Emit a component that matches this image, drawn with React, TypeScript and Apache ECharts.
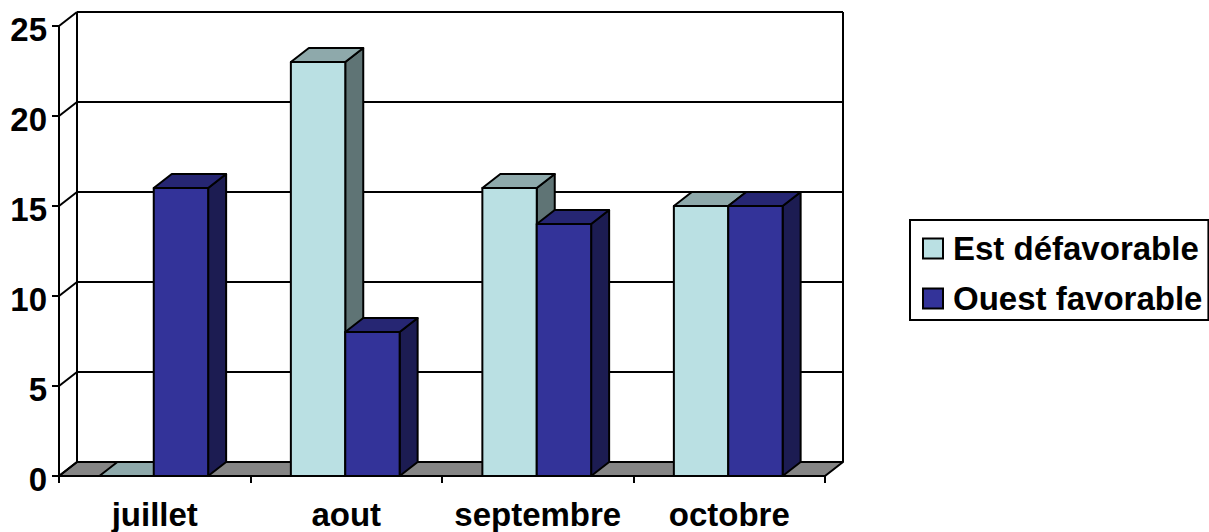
import React, { useEffect, useRef } from "react";
import * as echarts from "echarts";

const categories = ["juillet", "aout", "septembre", "octobre"];
const estName = "Est défavorable";
const ouestName = "Ouest favorable";
const estValues = [0, 23, 16, 15];
const ouestValues = [16, 8, 14, 15];
const yTicks = [0, 5, 10, 15, 20, 25];

const FONT = "'Liberation Sans', Arial, sans-serif";
const DX = 18;
const DY = 14;
const LINE = { stroke: "#000", lineWidth: 2 };

const poly = (points: number[][], fill: string) => ({
  type: "polygon",
  shape: { points },
  style: { fill, ...LINE, lineJoin: "round" },
});

const wallItem = (params: any, api: any) => {
  const r = params.coordSys;
  const y = api.coord([0, api.value(1)])[1];
  const children: any[] = [
    { type: "line", shape: { x1: r.x + DX, y1: y - DY, x2: r.x + r.width + DX, y2: y - DY }, style: LINE },
    { type: "line", shape: { x1: r.x, y1: y, x2: r.x + DX, y2: y - DY }, style: LINE },
  ];
  if (api.value(1) === 0) {
    children.unshift(
      { type: "line", shape: { x1: r.x + DX, y1: r.y - DY, x2: r.x + DX, y2: y - DY }, style: LINE },
      { type: "line", shape: { x1: r.x + r.width + DX, y1: r.y - DY, x2: r.x + r.width + DX, y2: y - DY }, style: LINE },
      poly([[r.x, y], [r.x + r.width, y], [r.x + r.width + DX, y - DY], [r.x + DX, y - DY]], "#858585")
    );
  }
  return { type: "group", children };
};

const barItem = (side: number, front: string, top: string, dark: string) => (_: any, api: any) => {
  const cat = api.value(0);
  const [cx0, yTop] = api.coord([cat, api.value(1)]);
  const cx = cx0 - 1;
  const yBase = api.coord([cat, 0])[1];
  const w = api.size([1, 0])[0] * 0.284;
  const x0 = cx + (side === 0 ? -w : 0);
  const x1 = x0 + w;
  return {
    type: "group",
    children: [
      poly([[x1, yTop], [x1 + DX, yTop - DY], [x1 + DX, yBase - DY], [x1, yBase]], dark),
      poly([[x0, yTop], [x1, yTop], [x1 + DX, yTop - DY], [x0 + DX, yTop - DY]], top),
      poly([[x0, yTop], [x1, yTop], [x1, yBase], [x0, yBase]], front),
    ],
  };
};

export default function App() {
  const ref = useRef<HTMLDivElement>(null);
  useEffect(() => {
    const chart = echarts.init(ref.current!, undefined, { renderer: "svg" });
    const label = { color: "#000", fontFamily: FONT, fontWeight: "bold" as const, fontSize: 33 };
    chart.setOption({
      animation: false,
      backgroundColor: "#fff",
      grid: { left: 59, top: 26, width: 766, height: 450, containLabel: false },
      legend: {
        left: 910,
        top: 220,
        orient: "vertical",
        padding: [12, 6, 5, 12],
        itemGap: 17,
        itemWidth: 20,
        itemHeight: 20,
        borderColor: "#000",
        borderWidth: 2,
        backgroundColor: "#fff",
        textStyle: { ...label, padding: [0, 0, 0, 5] },
        data: [
          { name: estName, icon: "rect", itemStyle: { color: "#BAE0E3", borderColor: "#000", borderWidth: 2 } },
          { name: ouestName, icon: "rect", itemStyle: { color: "#333399", borderColor: "#000", borderWidth: 2 } },
        ],
      },
      xAxis: {
        type: "category",
        data: categories,
        axisLine: { lineStyle: { color: "#000", width: 2 } },
        axisTick: { show: true, alignWithLabel: false, length: 7, lineStyle: { color: "#000", width: 2 } },
        axisLabel: { ...label, margin: 22, interval: 0 },
      },
      yAxis: {
        type: "value",
        min: 0,
        max: 25,
        interval: 5,
        splitLine: { show: false },
        axisLine: { show: true, lineStyle: { color: "#000", width: 2 } },
        axisTick: { show: true, length: 7, lineStyle: { color: "#000", width: 2 } },
        axisLabel: { ...label, margin: 12, verticalAlign: "top", lineHeight: 33, padding: [-13, 0, 0, 0] },
      },
      series: [
        {
          type: "custom",
          silent: true,
          z: 1,
          clip: false,
          data: yTicks.map((t) => [0, t]),
          encode: { x: 0, y: 1 },
          renderItem: wallItem,
        },
        {
          type: "custom",
          name: estName,
          z: 2,
          clip: false,
          itemStyle: { color: "#BAE0E3" },
          data: estValues.map((v, i) => [i, v]),
          encode: { x: 0, y: 1 },
          renderItem: barItem(0, "#BAE0E3", "#8EA9AB", "#5F7475"),
        },
        {
          type: "custom",
          name: ouestName,
          z: 3,
          clip: false,
          itemStyle: { color: "#333399" },
          data: ouestValues.map((v, i) => [i, v]),
          encode: { x: 0, y: 1 },
          renderItem: barItem(1, "#333399", "#262673", "#1C1C52"),
        },
      ],
    });
    return () => chart.dispose();
  }, []);
  return <div ref={ref} style={{ position: "fixed", left: 0, top: 0, width: 1209, height: 532 }} />;
}
